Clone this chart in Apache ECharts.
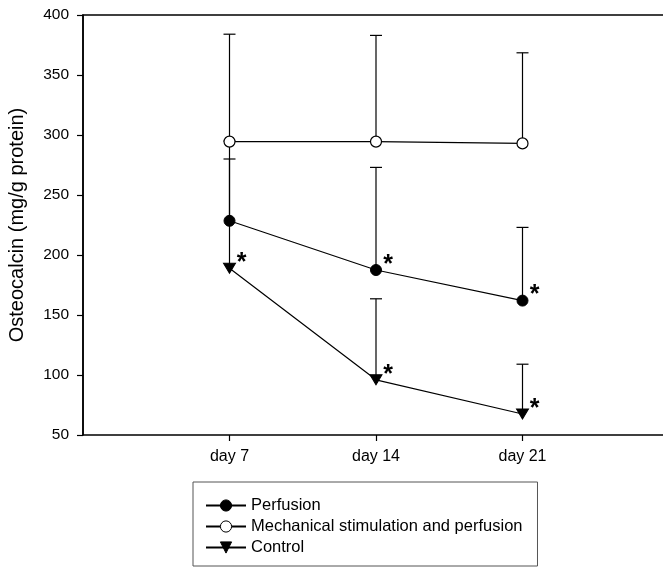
<!DOCTYPE html>
<html>
<head>
<meta charset="utf-8">
<script src="https://cdn.jsdelivr.net/npm/echarts@6/dist/echarts.min.js"></script>
<style>
  html, body { margin: 0; padding: 0; background: #fff; }
  #chart { width: 663px; height: 567px; }
</style>
</head>
<body>
<div id="chart"></div>
<script>
// days on the x axis
const days = [7, 14, 21];
const dayLabels = { 7: 'day 7', 14: 'day 14', 21: 'day 21' };

// means and upper error bar ends (mg/g protein)
const perfusion = [228.5, 187.5, 162];
const perfusionErr = [280, 273, 223];
const mechanical = [294.5, 294.5, 293];
const mechanicalErr = [384, 383, 368.5];
const control = [189, 96, 67.5];
const controlErr = [295, 163.5, 109];

// significance marks
const perfusionSig = [false, true, true];
const controlSig = [true, true, true];

const yTicks = [50, 100, 150, 200, 250, 300, 350, 400];

const chart = echarts.init(document.getElementById('chart'));
const font = 'Liberation Sans, Arial, sans-serif';

function pts(vals, sig) {
  return vals.map((v, i) => ({
    value: [days[i], v],
    label: { show: !!(sig && sig[i]) }
  }));
}

function errSeries(vals, err) {
  return {
    type: 'custom',
    silent: true,
    z: 1,
    data: vals.map((v, i) => [days[i], v, err[i]]),
    renderItem: (params, api) => {
      const lo = api.coord([api.value(0), api.value(1)]);
      const hi = api.coord([api.value(0), api.value(2)]);
      const cap = 6;
      const style = { stroke: '#000', lineWidth: 1.2 };
      return {
        type: 'group',
        children: [
          { type: 'line', shape: { x1: lo[0], y1: lo[1], x2: hi[0], y2: hi[1] }, style },
          { type: 'line', shape: { x1: hi[0] - cap, y1: hi[1], x2: hi[0] + cap, y2: hi[1] }, style }
        ]
      };
    }
  };
}

const starLabel = {
  formatter: '*',
  position: 'inside',
  offset: [12, -5],
  fontSize: 25,
  fontWeight: 'bold',
  fontFamily: font,
  color: '#000'
};

chart.setOption({
  animation: false,
  backgroundColor: '#fff',
  grid: {
    left: 83, top: 15, width: 586, height: 420,
    outerBoundsMode: 'none',
    show: true, borderColor: '#000', borderWidth: 1.5, backgroundColor: 'transparent'
  },
  xAxis: {
    type: 'value', min: 0, max: 28, interval: 7,
    axisLine: { show: false },
    axisTick: { show: true, length: 6, lineStyle: { color: '#000', width: 1.2 },
      customValues: days },
    axisLabel: { margin: 14, fontSize: 16, fontFamily: font, color: '#000',
      customValues: days, formatter: v => dayLabels[v] || '' },
    splitLine: { show: false }
  },
  yAxis: {
    type: 'value', min: 50, max: 400, interval: 50,
    name: 'Osteocalcin (mg/g protein)',
    nameLocation: 'middle', nameGap: 56,
    nameTextStyle: { fontSize: 20, fontFamily: font, color: '#000' },
    axisLine: { show: true, lineStyle: { color: '#000', width: 1.5 } },
    axisTick: { show: true, length: 6, lineStyle: { color: '#000', width: 1.2 } },
    axisLabel: { margin: 14, fontSize: 15.5, fontFamily: font, color: '#000',
      customValues: yTicks },
    splitLine: { show: false }
  },
  legend: {
    orient: 'vertical',
    left: 193, top: 482, height: 62,
    padding: [15, 15, 10, 12],
    itemGap: 4,
    itemWidth: 40, itemHeight: 14,
    itemStyle: { borderWidth: 1 },
    borderColor: '#555', borderWidth: 1,
    textStyle: { fontSize: 16.5, fontFamily: font, color: '#000' },
    data: ['Perfusion', 'Mechanical stimulation and perfusion', 'Control']
  },
  series: [
    errSeries(mechanical, mechanicalErr),
    errSeries(perfusion, perfusionErr),
    errSeries(control, controlErr),
    {
      name: 'Perfusion', type: 'line', z: 3,
      data: pts(perfusion, perfusionSig),
      symbol: 'circle', symbolSize: 11,
      lineStyle: { color: '#000', width: 1.2 },
      itemStyle: { color: '#000', borderColor: '#000', borderWidth: 1 },
      label: starLabel
    },
    {
      name: 'Mechanical stimulation and perfusion', type: 'line', z: 3,
      data: pts(mechanical, null),
      symbol: 'circle', symbolSize: 11,
      lineStyle: { color: '#000', width: 1.2 },
      itemStyle: { color: '#fff', borderColor: '#000', borderWidth: 1.2 }
    },
    {
      name: 'Control', type: 'line', z: 3,
      data: pts(control, controlSig),
      symbol: 'triangle', symbolSize: [12, 10], symbolRotate: 180,
      lineStyle: { color: '#000', width: 1.2 },
      itemStyle: { color: '#000', borderColor: '#000', borderWidth: 1 },
      label: starLabel
    }
  ]
});
</script>
</body>
</html>
